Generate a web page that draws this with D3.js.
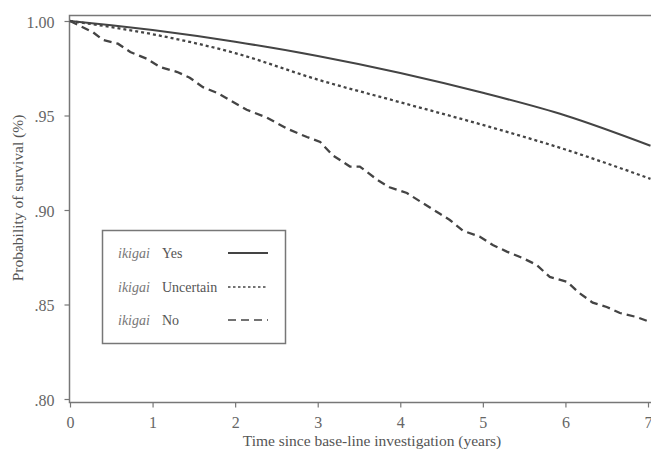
<!DOCTYPE html>
<html>
<head>
<meta charset="utf-8">
<script src="https://cdn.jsdelivr.net/npm/d3@7"></script>
<style>
    body { margin: 0; background: #fff; }
    text { font-family: "Liberation Serif", "DejaVu Serif", serif; fill: #555; }
</style>
</head>
<body>
<svg width="651" height="461"></svg>
<script>
// Survival curves: [years, probability]
const yesCurve = [
    [0, 1.000], [0.5, 0.9978], [1, 0.9952], [2, 0.989], [3, 0.9815],
    [4, 0.9725], [5, 0.962], [6, 0.950], [7.03, 0.9340]
];
const uncertainCurve = [
    [0, 1.000], [0.5, 0.9968], [1, 0.993], [2, 0.983], [3, 0.969],
    [4, 0.957], [5, 0.945], [6, 0.932], [7.03, 0.9165]
];
const noCurve = [
    [0, 1.000], [0.28, 0.994], [0.40, 0.990], [0.58, 0.988], [0.73, 0.9836],
    [0.93, 0.980], [1.09, 0.9757], [1.30, 0.973], [1.45, 0.970], [1.61, 0.965],
    [1.78, 0.962], [1.94, 0.958], [2.14, 0.953], [2.38, 0.949], [2.63, 0.943],
    [2.87, 0.9386], [3.03, 0.936], [3.18, 0.929], [3.39, 0.923], [3.51, 0.923],
    [3.72, 0.916], [3.87, 0.912], [4.08, 0.909], [4.27, 0.9037], [4.48, 0.898],
    [4.60, 0.8947], [4.76, 0.889], [4.96, 0.886], [5.12, 0.8815], [5.29, 0.878],
    [5.48, 0.8746], [5.65, 0.871], [5.81, 0.8646], [6.02, 0.862], [6.17, 0.856],
    [6.33, 0.851], [6.50, 0.8487], [6.66, 0.8455], [6.86, 0.8434], [7.03, 0.8407]
];

const xTicks = [0, 1, 2, 3, 4, 5, 6, 7];
const yTicks = [0.80, 0.85, 0.90, 0.95, 1.00];
const yTickLabels = ['.80', '.85', '.90', '.95', '1.00'];

const seriesNames = ['Yes', 'Uncertain', 'No'];
const seriesData = [yesCurve, uncertainCurve, noCurve];
const seriesDash = [null, '3,3', '8,5'];

const svg = d3.select('svg');
const axisColor = '#777';
const lineColor = '#444';

const x = d3.scaleLinear().domain([0, 7]).range([70, 648]);
const y = d3.scaleLinear().domain([0.80, 1.00]).range([399, 21]);

// Frame (top and right edges)
svg.append('rect')
    .attr('x', 69.5).attr('y', 15.5)
    .attr('width', 590).attr('height', 387)
    .style('fill', 'none')
    .style('stroke', axisColor)
    .style('stroke-width', 1.5);

// Y axis
const yAxis = svg.append('g')
    .attr('transform', 'translate(69.5,0)')
    .call(d3.axisLeft(y)
        .tickValues(yTicks)
        .tickSize(5)
        .tickFormat((d, i) => yTickLabels[i]));
yAxis.select('.domain').remove();
yAxis.selectAll('line').style('stroke', axisColor).style('stroke-width', 1.2);
yAxis.selectAll('text')
    .attr('x', -15)
    .attr('dy', '0.4em')
    .style('font-size', '16px')
    .style('font-family', '"Liberation Serif", serif')
    .style('fill', '#666');

// X axis
const xAxis = svg.append('g')
    .attr('transform', 'translate(0,402.5)')
    .call(d3.axisBottom(x)
        .tickValues(xTicks)
        .tickSize(5)
        .tickFormat(d3.format('d')));
xAxis.select('.domain').remove();
xAxis.selectAll('line').style('stroke', axisColor).style('stroke-width', 1.2);
xAxis.selectAll('text')
    .attr('y', 14)
    .style('font-size', '16px')
    .style('font-family', '"Liberation Serif", serif')
    .style('fill', '#666');

// Axis titles
svg.append('text')
    .attr('x', 372).attr('y', 446)
    .attr('text-anchor', 'middle')
    .style('font-size', '15.5px')
    .text('Time since base-line investigation (years)');

svg.append('text')
    .attr('transform', 'translate(23,198) rotate(-90)')
    .attr('text-anchor', 'middle')
    .style('font-size', '15.5px')
    .text('Probability of survival (%)');

// Curves
const line = d3.line()
    .x(d => x(d[0]))
    .y(d => y(d[1]));

svg.append('g')
    .selectAll('path')
    .data(seriesData)
    .enter().append('path')
    .attr('d', (d, i) => line.curve(i < 2 ? d3.curveMonotoneX : d3.curveLinear)(d))
    .style('fill', 'none')
    .style('stroke', lineColor)
    .style('stroke-width', (d, i) => (i == 0 ? 2 : 2.3))
    .style('stroke-dasharray', (d, i) => seriesDash[i]);

// Legend
const legend = svg.append('g');
legend.append('rect')
    .attr('x', 102.5).attr('y', 230.5)
    .attr('width', 183).attr('height', 113)
    .style('fill', '#fff')
    .style('stroke', axisColor)
    .style('stroke-width', 1.5);

const rows = legend.selectAll('g.row')
    .data(seriesNames)
    .enter().append('g')
    .attr('class', 'row')
    .attr('transform', (d, i) => 'translate(0,' + [253, 287, 320][i] + ')');

rows.append('text')
    .attr('x', 118).attr('y', 5)
    .style('font-size', '14px')
    .style('font-style', 'italic')
    .style('fill', '#777')
    .text('ikigai');

rows.append('text')
    .attr('x', 162).attr('y', 5)
    .style('font-size', '14px')
    .text(d => d);

rows.append('line')
    .attr('x1', 228).attr('x2', 268)
    .attr('y1', 0).attr('y2', 0)
    .style('stroke', lineColor)
    .style('stroke-width', (d, i) => (i == 0 ? 2 : 1.6))
    .style('stroke-dasharray', (d, i) => (i == 1 ? '2.5,2.5' : seriesDash[i]));
</script>
</body>
</html>
